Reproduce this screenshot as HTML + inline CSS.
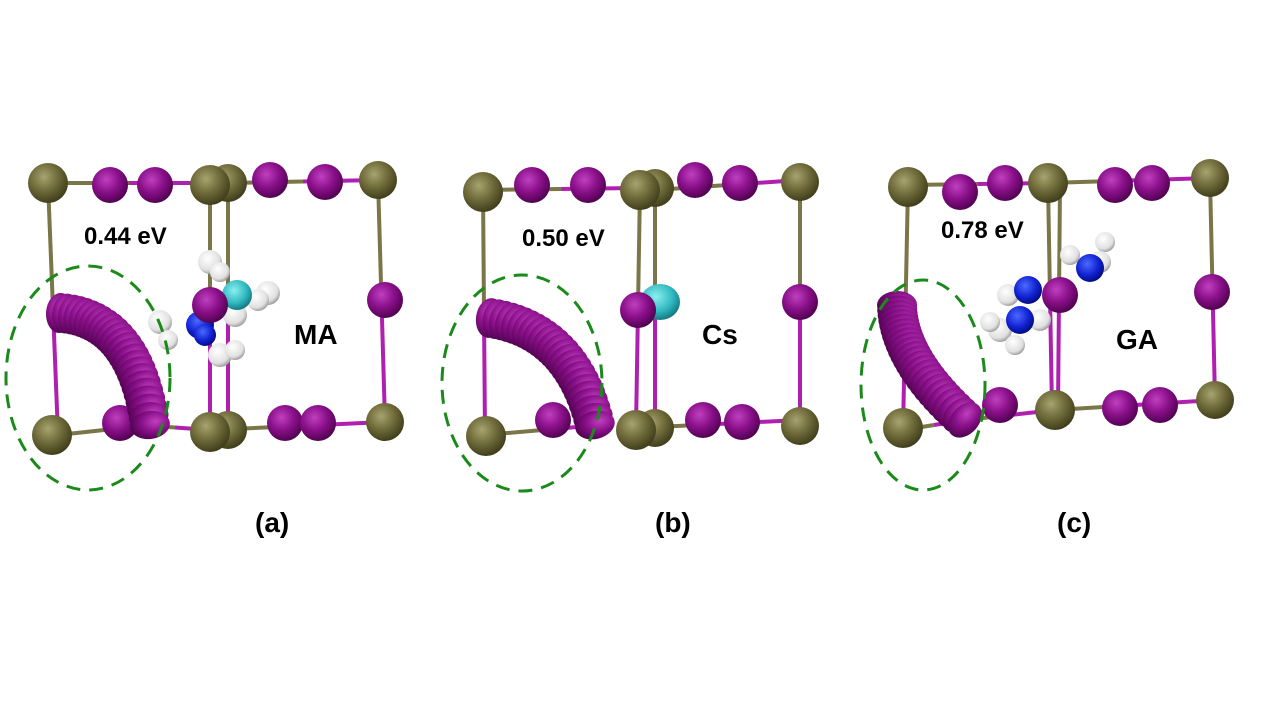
<!DOCTYPE html>
<html><head><meta charset="utf-8"><style>
html,body{margin:0;padding:0;background:#fff;width:1280px;height:720px;overflow:hidden}
svg{display:block}
text{font-family:"Liberation Sans",sans-serif;font-weight:bold;fill:#000}
</style></head><body>
<svg id="s" width="1280" height="720" viewBox="0 0 1280 720" xmlns="http://www.w3.org/2000/svg">
<defs>
<radialGradient id="pb" cx="0.4" cy="0.35" r="0.7"><stop offset="0" stop-color="#a8a470"/><stop offset="0.5" stop-color="#6f6b3a"/><stop offset="1" stop-color="#3a3818"/></radialGradient>
<radialGradient id="io" cx="0.4" cy="0.35" r="0.7"><stop offset="0" stop-color="#c040c0"/><stop offset="0.5" stop-color="#8a108a"/><stop offset="1" stop-color="#4a004a"/></radialGradient>
<radialGradient id="bl" cx="0.4" cy="0.35" r="0.7"><stop offset="0" stop-color="#4a6aff"/><stop offset="0.6" stop-color="#1020d0"/><stop offset="1" stop-color="#000a70"/></radialGradient>
<radialGradient id="cy" cx="0.4" cy="0.35" r="0.7"><stop offset="0" stop-color="#8af0f0"/><stop offset="0.6" stop-color="#30b8c0"/><stop offset="1" stop-color="#107078"/></radialGradient>
<radialGradient id="wh" cx="0.4" cy="0.35" r="0.7"><stop offset="0" stop-color="#ffffff"/><stop offset="0.7" stop-color="#e0e0e0"/><stop offset="1" stop-color="#909090"/></radialGradient>
</defs>
<g id="g"></g>
<text x="84" y="244" font-size="24">0.44 eV</text>
<text x="294" y="344" font-size="28">MA</text>
<text x="255" y="532" font-size="28">(a)</text>
<text x="522" y="246" font-size="24">0.50 eV</text>
<text x="702" y="344" font-size="28">Cs</text>
<text x="655" y="532" font-size="28">(b)</text>
<text x="941" y="238" font-size="24">0.78 eV</text>
<text x="1116" y="349" font-size="28">GA</text>
<text x="1057" y="532" font-size="28">(c)</text>
</svg>
<script>
var g=document.getElementById('g'),NS='http://www.w3.org/2000/svg';
function el(t,a){var e=document.createElementNS(NS,t);for(var k in a)e.setAttribute(k,a[k]);g.appendChild(e);return e;}
function bond(x1,y1,x2,y2){var mx=(x1+x2)/2,my=(y1+y2)/2;
 el('line',{x1:x1,y1:y1,x2:mx,y2:my,stroke:'#7a7648','stroke-width':4});
 el('line',{x1:mx,y1:my,x2:x2,y2:y2,stroke:'#b020b0','stroke-width':4});}
function sp(x,y,r,f){el('circle',{cx:x,cy:y,r:r,fill:'url(#'+f+')'});}
function arc(p0,c,p2){var n=24;for(var i=0;i<=n;i++){var t=i/n,u=1-t;
 var x=u*u*p0[0]+2*u*t*c[0]+t*t*p2[0],y=u*u*p0[1]+2*u*t*c[1]+t*t*p2[1];
 var dx=2*u*(c[0]-p0[0])+2*t*(p2[0]-c[0]),dy=2*u*(c[1]-p0[1])+2*t*(p2[1]-c[1]);
 var a=Math.atan2(dy,dx)*180/Math.PI;
 el('ellipse',{cx:x,cy:y,rx:14,ry:20,fill:'url(#io)',transform:'rotate('+a+' '+x+' '+y+')'});}}
function ell(cx,cy,rx,ry){el('ellipse',{cx:cx,cy:cy,rx:rx,ry:ry,fill:'none',stroke:'#1a8a1a','stroke-width':3,'stroke-dasharray':'14 9'});}

// Panel a
bond(48,183,210,183);bond(228,183,378,180);bond(48,183,58,435);bond(210,183,210,430);bond(228,183,228,430);bond(378,180,385,422);
bond(58,435,150,425);bond(210,430,385,422);bond(140,425,210,430);
[[110,185],[155,185],[270,180],[325,182]].forEach(function(p){sp(p[0],p[1],18,'io')});
sp(48,183,20,'pb');sp(228,183,19,'pb');sp(210,185,20,'pb');sp(378,180,19,'pb');
sp(385,300,18,'io');sp(120,423,18,'io');sp(285,423,18,'io');sp(318,423,18,'io');
sp(228,430,19,'pb');sp(210,432,20,'pb');sp(385,422,19,'pb');sp(52,435,20,'pb');
sp(160,322,12,'wh');sp(168,340,10,'wh');sp(210,262,12,'wh');sp(220,272,10,'wh');sp(268,293,12,'wh');sp(258,300,11,'wh');sp(220,355,12,'wh');sp(235,350,10,'wh');sp(235,315,12,'wh');
sp(200,325,14,'bl');sp(205,335,11,'bl');sp(237,295,15,'cy');sp(210,305,18,'io');
arc([60,313],[135,318],[150,425]);
ell(88,378,82,112);

// Panel b
bond(483,190,640,188);bond(655,190,800,180);bond(483,190,485,435);bond(640,188,636,428);bond(655,190,655,428);bond(800,180,800,420);
bond(485,435,600,425);bond(636,428,800,420);
[[532,185],[588,185],[695,180],[740,183]].forEach(function(p){sp(p[0],p[1],18,'io')});
sp(483,192,20,'pb');sp(655,188,19,'pb');sp(640,190,20,'pb');sp(800,182,19,'pb');
sp(800,302,18,'io');sp(553,420,18,'io');sp(703,420,18,'io');sp(742,422,18,'io');
sp(655,428,19,'pb');sp(636,430,20,'pb');sp(800,426,19,'pb');sp(486,436,20,'pb');
el('ellipse',{cx:660,cy:302,rx:20,ry:18,fill:'url(#cy)'});sp(638,310,18,'io');
arc([490,318],[572,330],[595,425]);
ell(522,383,80,108);

// Panel c
bond(908,185,1048,183);bond(1048,183,1210,178);bond(908,185,903,430);bond(1048,183,1052,410);bond(1060,185,1058,410);bond(1210,178,1215,400);
bond(903,430,965,420);bond(965,420,1055,410);bond(1055,410,1215,400);
[[960,192],[1005,183],[1115,185],[1152,183]].forEach(function(p){sp(p[0],p[1],18,'io')});
sp(908,187,20,'pb');sp(1048,183,20,'pb');sp(1210,178,19,'pb');
sp(1212,292,18,'io');sp(1000,405,18,'io');sp(1120,408,18,'io');sp(1160,405,18,'io');
sp(1055,410,20,'pb');sp(1215,400,19,'pb');sp(903,428,20,'pb');
sp(1105,242,10,'wh');sp(1100,262,11,'wh');sp(1008,295,11,'wh');sp(1000,330,12,'wh');sp(1040,320,11,'wh');sp(1070,255,10,'wh');sp(990,322,10,'wh');sp(1015,345,10,'wh');
sp(1028,290,14,'bl');sp(1090,268,14,'bl');sp(1020,320,14,'bl');sp(1060,295,18,'io');
arc([897,305],[898,360],[965,420]);
ell(923,385,62,105);
</script>
</body></html>
